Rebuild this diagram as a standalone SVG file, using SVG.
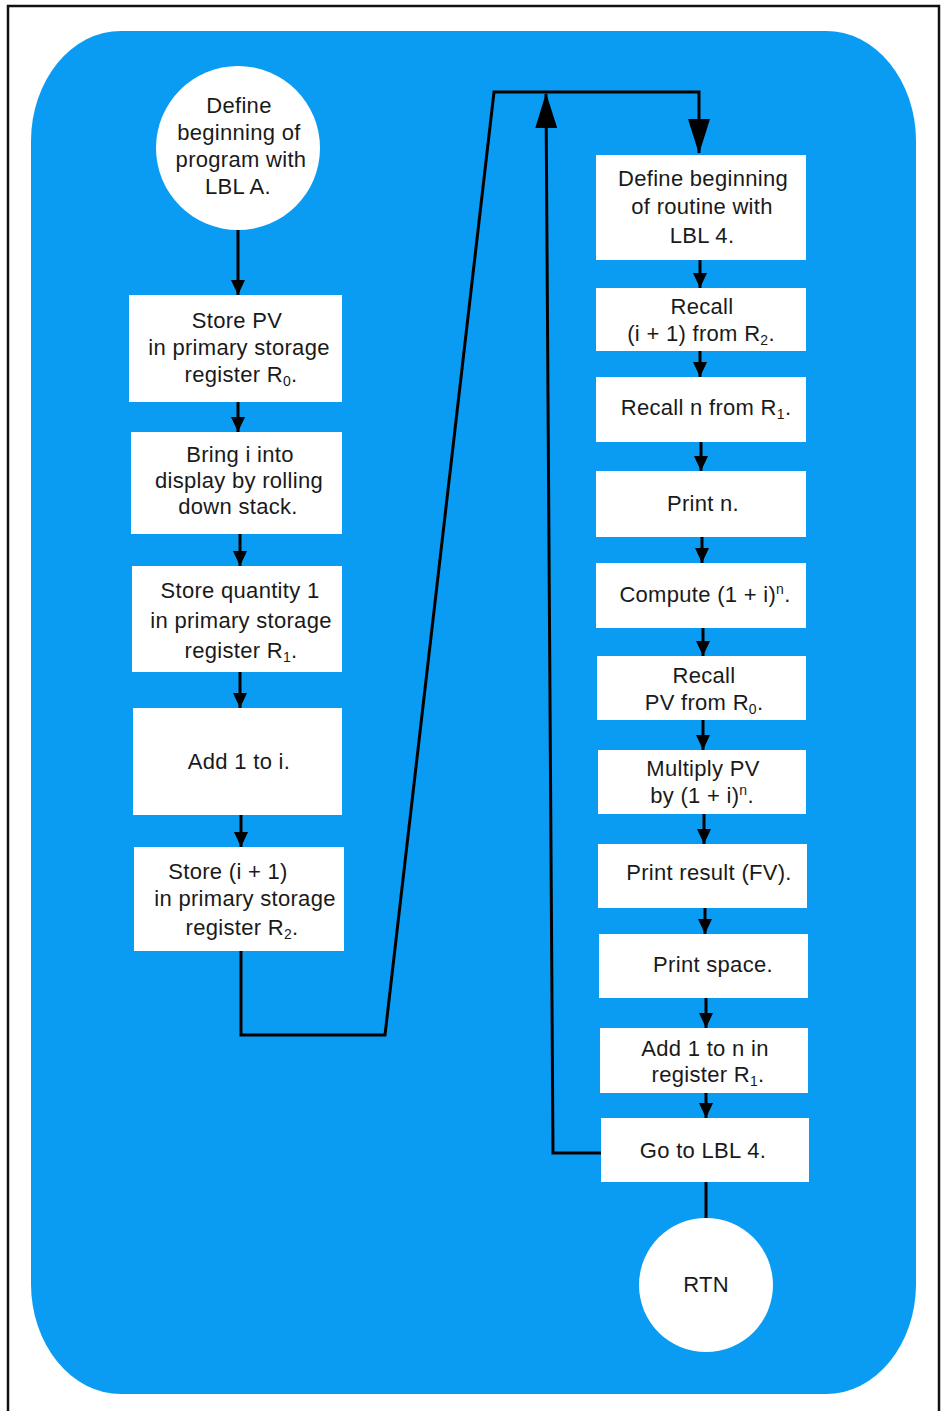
<svg xmlns="http://www.w3.org/2000/svg" width="942" height="1411" viewBox="0 0 942 1411">
<defs>
<style>
.t{font-family:"Liberation Sans",Arial,sans-serif;font-size:22px;letter-spacing:0.3px;fill:#1a1a1a;text-anchor:middle}
.box{fill:#ffffff}
.ln{stroke:#000;stroke-width:3;fill:none}
.sub{font-size:14px}
</style>
<marker id="ah" markerUnits="userSpaceOnUse" markerWidth="14" markerHeight="18" refX="15" refY="7" orient="auto">
<path d="M0,0 L15,7 L0,14 Z" fill="#000"/>
</marker>
<marker id="big" markerUnits="userSpaceOnUse" markerWidth="36" markerHeight="22" refX="34" refY="11" orient="auto">
<path d="M0,0 L35,11 L0,22 Z" fill="#000"/>
</marker>
</defs>
<rect x="0" y="0" width="942" height="1411" fill="#ffffff"/>
<path d="M8,1411 L8,6 L939,6 L939,1411" fill="none" stroke="#111" stroke-width="2.5"/>
<rect x="31" y="31" width="885" height="1363" rx="90" ry="110" fill="#0a9cf2"/>

<g id="connectors">
<line class="ln" x1="238" y1="230" x2="238" y2="295" marker-end="url(#ah)"/>
<line class="ln" x1="238" y1="402" x2="238" y2="432" marker-end="url(#ah)"/>
<line class="ln" x1="240" y1="534" x2="240" y2="566" marker-end="url(#ah)"/>
<line class="ln" x1="240" y1="672" x2="240" y2="708" marker-end="url(#ah)"/>
<line class="ln" x1="241" y1="815" x2="241" y2="847" marker-end="url(#ah)"/>
<polyline class="ln" points="241,951 241,1035 385,1035 494,92 699,92 699,153" marker-end="url(#big)"/>
<polyline class="ln" points="601,1153 553,1153 546,94" marker-end="url(#big)"/>
<line class="ln" x1="700" y1="260" x2="700" y2="288" marker-end="url(#ah)"/>
<line class="ln" x1="700" y1="351" x2="700" y2="377" marker-end="url(#ah)"/>
<line class="ln" x1="701" y1="442" x2="701" y2="471" marker-end="url(#ah)"/>
<line class="ln" x1="702" y1="537" x2="702" y2="563" marker-end="url(#ah)"/>
<line class="ln" x1="703" y1="628" x2="703" y2="656" marker-end="url(#ah)"/>
<line class="ln" x1="703" y1="720" x2="703" y2="750" marker-end="url(#ah)"/>
<line class="ln" x1="704" y1="814" x2="704" y2="844" marker-end="url(#ah)"/>
<line class="ln" x1="705" y1="908" x2="705" y2="934" marker-end="url(#ah)"/>
<line class="ln" x1="706" y1="998" x2="706" y2="1028" marker-end="url(#ah)"/>
<line class="ln" x1="706" y1="1093" x2="706" y2="1118" marker-end="url(#ah)"/>
<line class="ln" x1="706" y1="1182" x2="706" y2="1220"/>
</g>

<g id="start">
<circle cx="238" cy="148" r="82" fill="#fff"/>
<text class="t" x="239" y="113">Define</text>
<text class="t" x="239" y="140">beginning of</text>
<text class="t" x="241" y="167">program with</text>
<text class="t" x="238" y="194">LBL A.</text>
</g>
<g id="n1">
<rect class="box" x="129" y="295" width="213" height="107"/>
<text class="t" x="237" y="328">Store PV</text>
<text class="t" x="239" y="355">in primary storage</text>
<text class="t" x="241" y="382">register R<tspan class="sub" dy="4">0</tspan><tspan dy="-4">.</tspan></text>
</g>
<g id="n2">
<rect class="box" x="131" y="432" width="211" height="102"/>
<text class="t" x="240" y="462">Bring i into</text>
<text class="t" x="239" y="488">display by rolling</text>
<text class="t" x="238" y="514">down stack.</text>
</g>
<g id="n3">
<rect class="box" x="132" y="566" width="210" height="106"/>
<text class="t" x="240" y="598">Store quantity 1</text>
<text class="t" x="241" y="628">in primary storage</text>
<text class="t" x="241" y="658">register R<tspan class="sub" dy="4">1</tspan><tspan dy="-4">.</tspan></text>
</g>
<g id="n4">
<rect class="box" x="133" y="708" width="209" height="107"/>
<text class="t" x="239" y="769">Add 1 to i.</text>
</g>
<g id="n5">
<rect class="box" x="134" y="847" width="210" height="104"/>
<text class="t" x="228" y="879">Store (i + 1)</text>
<text class="t" x="245" y="906">in primary storage</text>
<text class="t" x="242" y="935">register R<tspan class="sub" dy="4">2</tspan><tspan dy="-4">.</tspan></text>
</g>

<g id="r1">
<rect class="box" x="596" y="155" width="210" height="105"/>
<text class="t" x="703" y="186">Define beginning</text>
<text class="t" x="702" y="214">of routine with</text>
<text class="t" x="702" y="243">LBL 4.</text>
</g>
<g id="r2">
<rect class="box" x="596" y="288" width="210" height="63"/>
<text class="t" x="702" y="314">Recall</text>
<text class="t" x="701" y="341">(i + 1) from R<tspan class="sub" dy="4">2</tspan><tspan dy="-4">.</tspan></text>
</g>
<g id="r3">
<rect class="box" x="596" y="377" width="210" height="65"/>
<text class="t" x="706" y="415">Recall n from R<tspan class="sub" dy="4">1</tspan><tspan dy="-4">.</tspan></text>
</g>
<g id="r4">
<rect class="box" x="596" y="471" width="210" height="66"/>
<text class="t" x="703" y="511">Print n.</text>
</g>
<g id="r5">
<rect class="box" x="596" y="563" width="210" height="65"/>
<text class="t" x="705" y="602">Compute (1 + i)<tspan class="sub" dy="-8">n</tspan><tspan dy="8">.</tspan></text>
</g>
<g id="r6">
<rect class="box" x="597" y="656" width="209" height="64"/>
<text class="t" x="704" y="683">Recall</text>
<text class="t" x="704" y="710">PV from R<tspan class="sub" dy="4">0</tspan><tspan dy="-4">.</tspan></text>
</g>
<g id="r7">
<rect class="box" x="598" y="750" width="208" height="64"/>
<text class="t" x="703" y="776">Multiply PV</text>
<text class="t" x="702" y="803">by (1 + i)<tspan class="sub" dy="-8">n</tspan><tspan dy="8">.</tspan></text>
</g>
<g id="r8">
<rect class="box" x="598" y="844" width="209" height="64"/>
<text class="t" x="709" y="880">Print result (FV).</text>
</g>
<g id="r9">
<rect class="box" x="599" y="934" width="209" height="64"/>
<text class="t" x="713" y="972">Print space.</text>
</g>
<g id="r10">
<rect class="box" x="600" y="1028" width="208" height="65"/>
<text class="t" x="705" y="1056">Add 1 to n in</text>
<text class="t" x="708" y="1082">register R<tspan class="sub" dy="4">1</tspan><tspan dy="-4">.</tspan></text>
</g>
<g id="r11">
<rect class="box" x="601" y="1118" width="208" height="64"/>
<text class="t" x="703" y="1158">Go to LBL 4.</text>
</g>
<g id="end">
<circle cx="706" cy="1285" r="67" fill="#fff"/>
<text class="t" x="706" y="1292">RTN</text>
</g>
</svg>
